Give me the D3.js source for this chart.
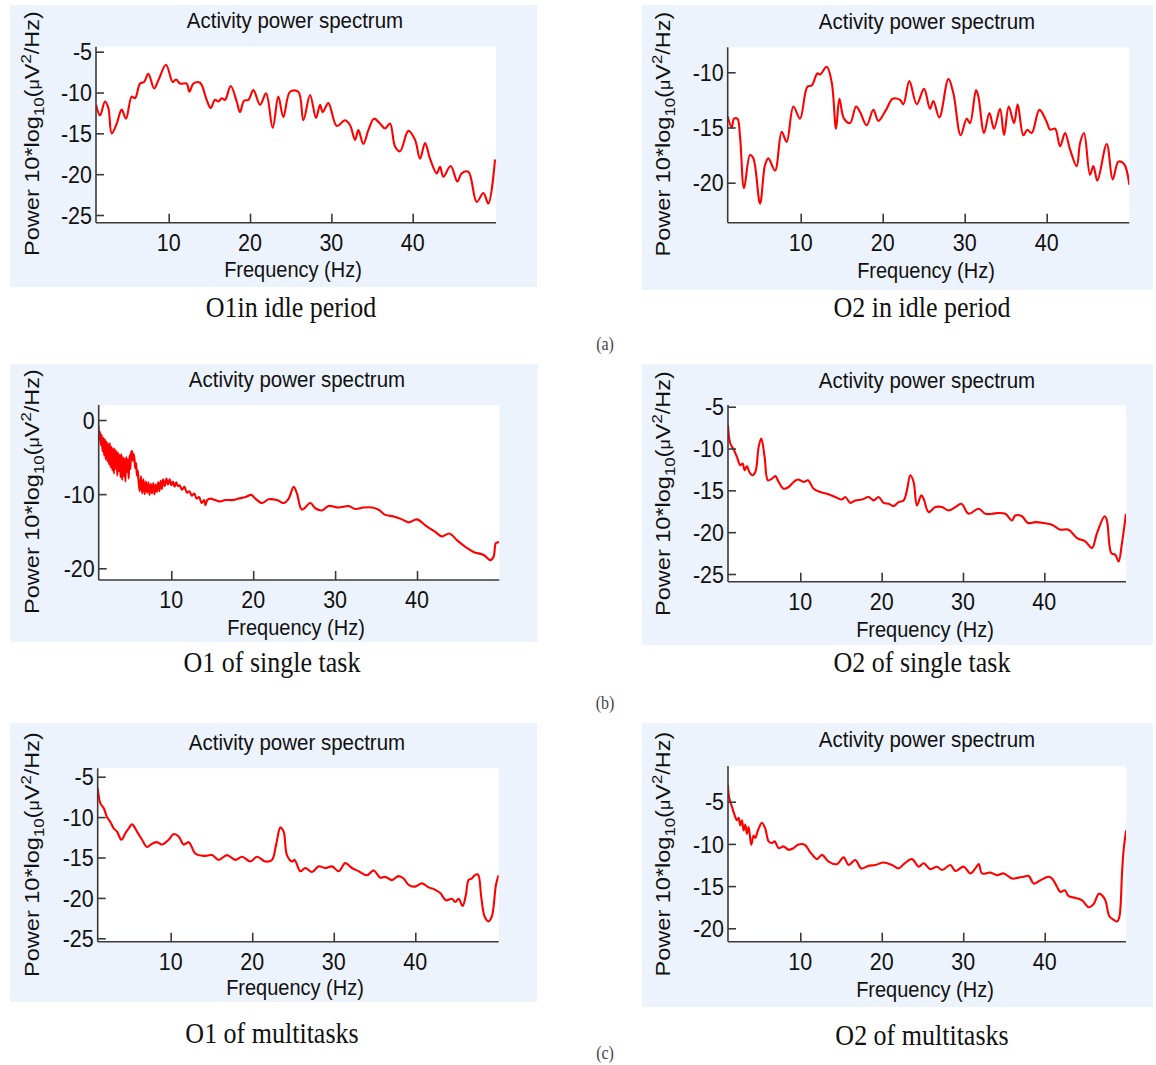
<!DOCTYPE html>
<html><head><meta charset="utf-8">
<script src="https://cdn.jsdelivr.net/npm/d3@7"></script>
<style>body{margin:0;background:#fff}</style>
</head><body>
<svg id="c" width="1156" height="1065"></svg>
<script>
const xTicks = [10, 20, 30, 40];

const freqA1 = [1.07,1.56,2.17,2.58,2.99,3.61,4.22,4.75,5.45,5.86,6.48,6.97,7.5,8.2,8.73,9.67,10.49,10.9,11.39,12.21,12.54,13.03,13.85,14.67,15.16,15.7,16.11,16.52,16.93,17.62,18.36,18.77,19.26,19.8,20.41,21.23,21.97,22.79,23.48,24.1,24.92,25.94,26.56,27.38,28.11,28.61,28.93,29.63,30.66,31.68,32.3,32.91,33.32,33.93,34.55,35.25,35.98,36.6,37.21,37.83,38.44,39.47,40.29,40.9,41.52,42.13,42.95,43.36,43.77,44.67,45.49,46.02,46.84,47.87,48.69,49.3,50.12];
const powA1 = [-11.5,-12.8,-11.1,-11.9,-15.0,-13.8,-12.1,-13.2,-10.5,-10.7,-8.9,-8.7,-7.7,-9.5,-8.5,-6.6,-8.7,-8.4,-8.9,-8.9,-9.9,-8.9,-8.8,-10.9,-11.9,-10.9,-11.1,-10.7,-10.9,-9.2,-11.1,-12.4,-11.0,-10.9,-9.7,-11.5,-10.1,-14.3,-10.5,-13.0,-9.9,-9.9,-13.4,-10.3,-13.1,-11.5,-12.4,-11.3,-14.1,-13.4,-14.0,-15.8,-14.6,-16.3,-14.6,-13.2,-13.8,-14.4,-13.8,-16.6,-17.2,-14.7,-15.8,-18.1,-16.2,-18.1,-19.9,-19.1,-20.3,-19.0,-20.9,-19.9,-19.7,-23.4,-22.3,-23.6,-18.2];
const yTicksA1 = [-25, -20, -15, -10, -5];

const freqA2 = [1.1,1.59,1.87,2.28,2.6,3.09,3.82,4.23,5.04,5.65,6.06,6.87,7.68,8.29,9.11,9.92,10.81,11.34,12.03,12.36,13.17,13.78,14.31,14.72,15.28,16.02,16.75,17.24,18.05,18.86,19.47,20.41,21.22,22.11,22.52,23.25,24.15,25.04,25.77,26.18,26.91,28.01,28.62,29.51,30.24,30.65,31.38,31.67,32.36,33.01,33.58,34.31,34.8,35.37,36.02,36.46,37.15,37.64,38.17,39.11,40.0,40.41,41.02,41.63,42.24,42.85,43.66,44.07,44.55,45.28,45.69,46.18,47.32,48.05,48.74,49.43,50.08];
const powA2 = [-14.0,-15.0,-14.2,-14.2,-15.8,-20.5,-17.5,-17.8,-21.9,-18.4,-17.8,-18.9,-15.4,-16.3,-13.1,-14.2,-11.3,-11.2,-10.1,-10.2,-9.5,-10.9,-15.1,-12.4,-14.2,-14.6,-13.1,-13.6,-14.8,-13.4,-14.4,-13.4,-12.4,-12.5,-12.9,-10.8,-12.9,-11.5,-13.3,-12.6,-14.1,-10.6,-11.9,-15.7,-14.2,-14.6,-11.6,-12.2,-15.5,-13.7,-15.1,-13.3,-15.7,-13.1,-14.6,-12.9,-15.7,-15.2,-15.5,-13.4,-14.5,-15.2,-15.1,-16.7,-15.5,-17.0,-18.5,-16.4,-15.5,-19.3,-18.5,-19.8,-16.5,-19.7,-18.1,-18.3,-20.2];
const yTicksA2 = [-20, -15, -10];

const freqB1 = [1.1,1.2,1.3,1.4,1.5,1.6,1.7,1.8,1.9,2.0,2.1,2.2,2.3,2.4,2.5,2.6,2.7,2.8,2.9,3.0,3.1,3.2,3.3,3.4,3.5,3.6,3.7,3.8,3.9,4.0,4.1,4.2,4.3,4.4,4.5,4.6,4.7,4.8,4.9,5.0,5.1,5.2,5.3,5.4,5.5,5.6,5.7,5.8,5.9,6.0,6.15,6.3,6.45,6.6,6.75,6.9,7.05,7.2,7.35,7.5,7.65,7.8,7.95,8.1,8.25,8.4,8.55,8.7,8.85,9.0,9.2,9.4,9.6,9.8,10.0,10.2,10.4,10.6,10.8,11.0,11.3,11.6,11.9,12.2,12.5,12.8,13.1,13.4,13.7,14.0,14.15,14.4,14.76,15.37,15.98,16.59,17.41,18.22,19.04,19.77,20.26,21.07,21.88,22.9,23.72,24.33,24.94,25.34,25.95,26.97,27.58,28.4,29.21,30.43,31.65,32.47,33.48,34.5,35.32,36.13,37.15,38.16,38.98,40.0,41.01,42.23,43.05,43.94,44.88,45.9,46.91,48.14,48.95,49.36,49.64,50.05];
const powB1 = [-0.7,-2.6,-1.6,-3.4,-2.0,-4.2,-2.4,-4.8,-2.6,-5.3,-2.9,-5.6,-3.2,-6.0,-3.1,-6.4,-3.6,-6.8,-3.8,-7.2,-3.9,-6.6,-4.2,-7.5,-4.4,-6.9,-4.7,-7.7,-4.6,-8.1,-5.0,-7.6,-5.2,-8.3,-5.0,-7.0,-5.3,-7.9,-4.8,-6.6,-4.4,-4.2,-5.5,-4.6,-5.2,-6.5,-5.8,-7.5,-6.8,-8.2,-9.6,-7.6,-9.9,-8.0,-10.0,-8.3,-9.8,-8.4,-10.1,-8.6,-9.9,-8.5,-10.0,-8.7,-9.7,-8.4,-9.6,-8.2,-9.3,-8.0,-8.9,-7.9,-8.7,-8.0,-8.8,-8.3,-9.0,-8.4,-8.9,-8.8,-9.4,-9.0,-9.8,-9.6,-10.2,-9.9,-10.6,-10.4,-11.2,-10.8,-11.5,-10.8,-10.6,-10.8,-11.0,-10.8,-10.8,-10.6,-10.4,-10.1,-10.6,-11.2,-10.7,-10.8,-11.2,-10.6,-9.0,-9.9,-12.1,-11.2,-11.9,-12.2,-11.6,-11.8,-11.6,-12.0,-11.8,-11.8,-12.1,-12.8,-13.0,-13.4,-13.8,-13.4,-14.2,-15.1,-15.7,-15.3,-16.2,-17.1,-17.8,-18.2,-18.9,-18.4,-16.6,-16.5];
const yTicksB1 = [-20, -10, 0];

const freqB2 = [1.11,1.39,1.8,2.21,2.62,2.91,3.16,3.44,3.73,4.06,4.47,4.88,5.2,5.61,6.02,6.52,6.93,7.34,7.95,8.57,9.18,9.71,10.41,10.94,11.64,12.46,13.28,14.3,15.12,15.53,16.15,16.76,17.58,18.4,19.02,19.63,20.25,20.86,21.48,22.09,22.7,23.11,23.52,23.93,24.34,24.88,25.16,25.78,26.6,27.42,28.24,29.06,29.8,30.7,31.93,32.75,33.57,34.39,35.21,36.02,36.43,37.25,37.99,38.89,39.92,40.94,41.97,42.99,44.02,45.04,45.86,46.48,47.42,47.7,48.24,48.73,49.14,49.55,50.04];
const powB2 = [-7.2,-9.4,-10.1,-11.0,-12.0,-11.8,-12.6,-12.1,-12.8,-13.2,-12.8,-9.8,-8.8,-11.0,-13.8,-13.6,-13.3,-14.0,-14.8,-14.6,-14.0,-13.7,-14.0,-13.8,-14.8,-15.2,-15.4,-15.8,-16.1,-15.8,-16.5,-16.2,-16.1,-15.8,-16.2,-15.8,-16.5,-16.6,-16.9,-16.4,-16.2,-15.0,-13.2,-14.0,-16.8,-15.6,-16.0,-17.6,-17.0,-17.0,-17.4,-17.0,-16.6,-17.8,-17.2,-17.8,-17.8,-17.7,-17.8,-18.6,-18.0,-18.1,-18.9,-18.8,-18.9,-19.1,-19.7,-19.7,-20.7,-21.1,-21.9,-20.1,-18.1,-18.6,-22.5,-22.7,-23.5,-21.3,-17.8];
const yTicksB2 = [-25, -20, -15, -10, -5];

const freqC1 = [1.05,1.38,1.79,2.19,2.6,3.01,3.42,3.95,4.44,4.85,5.26,5.87,6.49,7.1,7.71,8.32,8.94,9.75,10.37,10.98,11.59,12.21,13.02,14.05,15.07,15.88,16.91,17.93,18.75,19.77,20.59,21.61,22.42,22.91,23.45,23.85,24.26,24.88,25.2,25.9,26.51,27.33,28.14,28.96,29.78,30.6,31.41,32.23,33.05,34.07,34.89,35.7,36.32,37.13,37.95,38.57,39.18,40.0,40.82,41.63,42.45,43.06,43.76,44.49,44.9,45.31,45.8,46.21,46.53,46.94,47.27,47.68,48.09,48.5,48.99,49.39,49.89,50.21];
const powC1 = [-6.4,-8.3,-8.9,-10.0,-10.6,-11.4,-11.8,-12.8,-12.0,-11.4,-10.9,-11.8,-12.8,-13.7,-13.3,-13.1,-13.4,-12.8,-12.1,-12.4,-13.4,-13.1,-14.5,-14.8,-14.7,-15.3,-14.7,-15.3,-14.9,-15.5,-14.9,-15.5,-15.3,-13.5,-11.3,-11.8,-14.7,-15.5,-15.3,-16.7,-16.3,-16.8,-16.1,-16.3,-16.1,-16.7,-15.7,-16.3,-16.7,-17.2,-16.6,-17.5,-17.4,-17.8,-17.3,-17.6,-18.4,-18.6,-18.2,-18.7,-19.0,-19.4,-20.3,-20.1,-20.5,-20.1,-21.0,-19.6,-17.8,-17.6,-17.2,-17.1,-19.9,-22.3,-22.9,-22.3,-18.4,-17.2];
const yTicksC1 = [-25, -20, -15, -10, -5];

const freqC2 = [1.12,1.28,1.61,1.94,2.22,2.43,2.63,2.84,3.04,3.25,3.45,3.66,3.98,4.27,4.47,4.8,5.29,5.7,6.11,6.52,6.85,7.34,7.95,8.57,9.18,9.71,10.53,11.23,12.05,12.66,13.48,14.5,15.32,15.94,16.75,17.49,18.39,19.21,20.23,21.26,22.08,22.81,23.71,24.53,25.15,25.96,26.78,27.4,28.42,29.03,30.06,30.88,31.49,31.9,32.31,33.33,34.15,34.97,35.99,36.81,37.43,38.04,38.65,39.47,40.49,40.9,41.52,41.93,42.46,42.95,43.77,44.59,45.41,46.02,46.64,47.04,47.45,47.95,48.48,48.89,49.17,49.5,49.71,50.0];
const powC2 = [-3.0,-4.6,-5.6,-6.6,-7.2,-6.9,-7.8,-7.2,-8.4,-7.7,-8.8,-8.0,-10.1,-9.0,-9.3,-8.4,-7.5,-8.2,-9.7,-9.9,-9.7,-10.5,-10.3,-10.7,-10.5,-10.1,-10.1,-11.0,-11.8,-11.3,-12.1,-12.4,-11.6,-12.5,-11.9,-12.9,-12.6,-12.5,-12.2,-12.5,-12.9,-12.3,-11.8,-12.7,-12.3,-13.0,-12.7,-13.1,-12.5,-13.2,-12.7,-13.5,-12.9,-12.4,-13.5,-13.4,-13.7,-13.5,-14.1,-14.0,-13.9,-13.8,-14.7,-14.3,-13.9,-14.1,-15.1,-15.7,-15.5,-16.2,-16.4,-16.7,-17.5,-17.1,-15.9,-16.1,-16.7,-18.6,-19.0,-19.2,-18.6,-13.3,-10.5,-8.4];
const yTicksC2 = [-20, -15, -10, -5];

const titleText = "Activity power spectrum";
const xLabelText = "Frequency (Hz)";
const captions = ["O1in idle period", "O2 in idle period", "O1 of single task", "O2 of single task", "O1 of multitasks", "O2 of multitasks"];
const groupLabels = ["(a)", "(b)", "(c)"];

// layout (pixel positions) kept separate from data
const layout = [
  {bg:[10,5,527,282], xr:[168.7,412.7], yd:[-5,-25], yr:[51.7,215], rect:[96,496,46.7,222.7], title:[295,28], xlab:[293,277], ylab:[39,133.5], cap:[291,317]},
  {bg:[641.7,5,511.3,285], xr:[800.7,1046.7], yd:[-10,-20], yr:[72.3,182.7], rect:[727.7,1129.3,47.3,222.7], title:[927,29], xlab:[926,278], ylab:[670,134], cap:[922,317]},
  {bg:[10,364,528,278], xr:[171.3,417], yd:[0,-20], yr:[420,568.3], rect:[98.7,499.3,405,580], title:[297,386.7], xlab:[296,635], ylab:[39,491.5], cap:[272,671.7]},
  {bg:[641.7,364,511.3,281], xr:[800.3,1044.3], yd:[-5,-25], yr:[406.7,574], rect:[728,1126,405,581.7], title:[927,388.3], xlab:[925,636.7], ylab:[670,493.5], cap:[922,671.7]},
  {bg:[10,723,527,279], xr:[170.7,415.3], yd:[-5,-25], yr:[776.7,938.3], rect:[97.7,498.7,768.3,941.7], title:[297,750], xlab:[295,995], ylab:[39,854.5], cap:[272,1043]},
  {bg:[641.7,723,511.3,284], xr:[800.3,1044.7], yd:[-5,-20], yr:[801.7,928.3], rect:[728,1126,766,941.7], title:[927,747.3], xlab:[925,996.7], ylab:[670,854], cap:[922,1045]}
];
const series = [
  [freqA1, powA1, yTicksA1], [freqA2, powA2, yTicksA2],
  [freqB1, powB1, yTicksB1], [freqB2, powB2, yTicksB2],
  [freqC1, powC1, yTicksC1], [freqC2, powC2, yTicksC2]
];

const SY = 1.12; // vertical stretch of the original bitmap
const SANS = "'Liberation Sans', Arial, Helvetica, sans-serif";
const SERIF = "'Liberation Serif', 'Times New Roman', serif";
const svg = d3.select("#c");
const defs = svg.append("defs");

function label(g, x, y, str, size, anchor, family, extra) {
  return g.append("text")
    .attr("transform", `translate(${x},${y}) scale(1,${SY})${extra || ""}`)
    .attr("text-anchor", anchor)
    .style("font-family", family)
    .style("font-size", size + "px")
    .attr("fill", "#111")
    .text(str);
}

layout.forEach((L, i) => {
  const [freq, pow, yTicks] = series[i];
  const g = svg.append("g");
  g.append("rect").attr("x", L.bg[0]).attr("y", L.bg[1]).attr("width", L.bg[2]).attr("height", L.bg[3]).attr("fill", "#edf3fc");
  const [l, r, t, b] = L.rect;
  g.append("rect").attr("x", l).attr("y", t).attr("width", r - l).attr("height", b - t).attr("fill", "#fff");

  const x = d3.scaleLinear().domain([10, 40]).range(L.xr);
  const y = d3.scaleLinear().domain(L.yd).range(L.yr);

  defs.append("clipPath").attr("id", "clip" + i)
    .append("rect").attr("x", l).attr("y", t).attr("width", r - l).attr("height", b - t);

  const line = d3.line().x(d => x(d[0])).y(d => y(d[1])).curve(d3.curveCatmullRom.alpha(0.5));
  g.append("path").datum(d3.zip(freq, pow))
    .attr("clip-path", `url(#clip${i})`)
    .attr("d", line)
    .attr("fill", "none").attr("stroke", "#ff0000").attr("stroke-width", 2.1)
    .attr("stroke-linejoin", "round");

  // axes (MATLAB style, box off, ticks inward)
  const axc = "#3a3a3a";
  const xa = g.append("g").attr("transform", `translate(0,${b})`)
    .call(d3.axisBottom(x).tickValues(xTicks).tickSize(-9).tickSizeOuter(0).tickFormat(""));
  xa.select(".domain").attr("d", `M${l},0H${r}`);
  const ya = g.append("g").attr("transform", `translate(${l},0)`)
    .call(d3.axisLeft(y).tickValues(yTicks).tickSize(-8).tickSizeOuter(0).tickFormat(""));
  ya.select(".domain").attr("d", `M0,${t}V${b}`);
  [xa, ya].forEach(a => {
    a.selectAll("path, line").attr("stroke", axc).attr("stroke-width", 1.6);
  });

  xTicks.forEach(v => label(g, x(v), b + 28, String(v), 21.5, "middle", SANS));
  yTicks.forEach(v => label(g, l - 4, y(v), String(v), 21.5, "end", SANS).attr("dy", "0.36em"));

  label(g, L.title[0], L.title[1], titleText, 20.5, "middle", SANS);
  label(g, L.xlab[0], L.xlab[1], xLabelText, 20, "middle", SANS);

  const yl = g.append("text")
    .attr("transform", `translate(${L.ylab[0]},${L.ylab[1]}) scale(1,${SY}) rotate(-90)`)
    .attr("text-anchor", "middle")
    .style("font-family", SANS).style("font-size", "21px").attr("fill", "#111");
  yl.append("tspan").text("Power 10*log");
  yl.append("tspan").attr("dy", 5).style("font-size", "15px").text("10");
  yl.append("tspan").attr("dy", -5).text("(");
  yl.append("tspan").style("font-size", "16px").text("\u03bc");
  yl.append("tspan").text("V");
  yl.append("tspan").attr("dy", -8).style("font-size", "15px").text("2");
  yl.append("tspan").attr("dy", 8).text("/Hz)");

  label(g, L.cap[0], L.cap[1], captions[i], 26, "middle", SERIF);
});

const glPos = [[605, 350], [605, 709], [605, 1059]];
groupLabels.forEach((s, i) => {
  label(svg, glPos[i][0], glPos[i][1], s, 16, "middle", SERIF).attr("fill", "#444");
});
</script>
</body></html>
